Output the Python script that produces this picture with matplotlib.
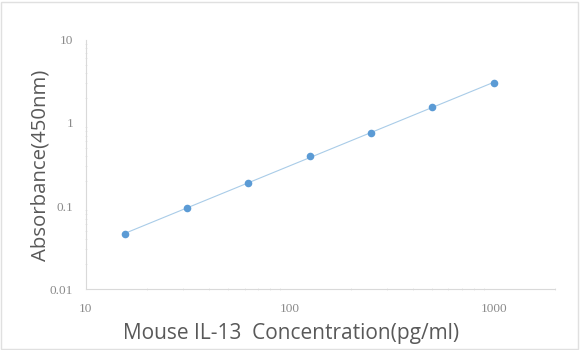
import matplotlib
matplotlib.use('Agg')
import matplotlib.pyplot as plt
import matplotlib.ticker as mticker
import numpy as np

# Standard curve data
concentration = [15.6, 31.25, 62.5, 125, 250, 500, 1000]
absorbance = [0.046, 0.096, 0.19, 0.395, 0.75, 1.55, 3.05]

x_ticks = [10, 100, 1000]
x_tick_labels = ['10', '100', '1000']
y_ticks = [0.01, 0.1, 1, 10]
y_tick_labels = ['0.01', '0.1', '1', '10']

fig = plt.figure(figsize=(5.8, 3.5), dpi=100)
ax = fig.add_axes([0.148, 0.174, 0.809, 0.712])

# power trendline (straight in log-log)
lx = np.log10(concentration)
ly = np.log10(absorbance)
k, b = np.polyfit(lx, ly, 1)
xs = np.array([concentration[0], concentration[-1]])
ax.plot(xs, 10 ** (k * np.log10(xs) + b), color='#A9CCE8', lw=0.8, zorder=2)

ax.scatter(concentration, absorbance, s=30, color='#5B9BD5', zorder=3, linewidths=0)

ax.set_xscale('log')
ax.set_yscale('log')
ax.set_xlim(10, 2000)
ax.set_ylim(0.01, 10)

ax.set_xticks(x_ticks)
ax.set_xticklabels(x_tick_labels)
ax.set_yticks(y_ticks)
ax.set_yticklabels(y_tick_labels)
ax.xaxis.set_minor_formatter(mticker.NullFormatter())
ax.yaxis.set_minor_formatter(mticker.NullFormatter())

for side in ['top', 'right']:
    ax.spines[side].set_visible(False)
for side in ['left', 'bottom']:
    ax.spines[side].set_color('#D9D9D9')
    ax.spines[side].set_linewidth(0.8)

ax.tick_params(which='major', length=0, labelsize=9.5, labelcolor='#8A8A8A')
ax.tick_params(axis='x', which='major', pad=10)
ax.tick_params(axis='y', which='major', pad=9)
ax.tick_params(which='minor', length=2, color='#E4E4E4', direction='inout')
for lab in ax.get_xticklabels() + ax.get_yticklabels():
    lab.set_family('Liberation Serif')

ax.set_xlabel('Mouse IL-13  Concentration(pg/ml)', fontsize=15, color='#595959',
              family='Open Sans')
ax.xaxis.set_label_coords(0.438, -0.135)
ax.set_ylabel('Absorbance(450nm)', fontsize=14.7, color='#595959',
              family='Open Sans')
ax.yaxis.set_label_coords(-0.076, 0.497)

# light frame around the figure
fig.patches.append(plt.Rectangle((0.002, 0.004), 0.994, 0.99, transform=fig.transFigure,
                                 fill=False, edgecolor='#E0E0E0', lw=1))

fig.savefig('out.png', dpi=100)
